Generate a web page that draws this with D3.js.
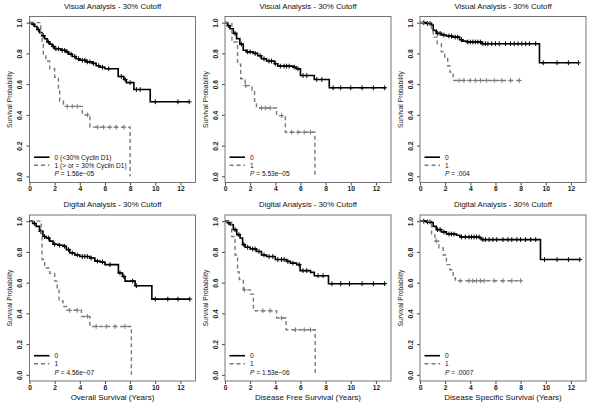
<!DOCTYPE html>
<html><head><meta charset="utf-8">
<script src="https://cdn.jsdelivr.net/npm/d3@7"></script>
<style>
body{margin:0;background:#fff;}
svg{display:block;font-family:"Liberation Sans",Arial,sans-serif;}
</style></head>
<body>
<svg id="chart" width="600" height="410"></svg>
<script>
// ---------- data ----------
const rowTitles = ["Visual Analysis - 30% Cutoff", "Digital Analysis - 30% Cutoff"];
const xTitles = ["Overall Survival (Years)", "Disease Free Survival (Years)", "Disease Specific Survival (Years)"];
const xTicks = [0, 2, 4, 6, 8, 10, 12];
const yTicks = [0, 0.2, 0.4, 0.6, 0.8, 1.0];
const pValues = ["1.56e\u221205", "5.53e\u221205", ".004", "4.56e\u221207", "1.53e\u221206", ".0007"];
const legendFirst = ["0 (<30% Cyclin D1)", "1 (> or = 30% Cyclin D1)"];
const legendOther = ["0", "1"];

// Panel 1: Visual, overall survival
const p1g0Time = [0,0.2,0.4,0.6,0.8,1.0,1.2,1.4,1.6,1.8,2.0,2.5,2.9,3.1,3.4,3.7,4.0,4.5,5.0,5.3,5.6,6.0,7.05,7.5,7.7,8.3,9.6];
const p1g0Surv = [1,0.99,0.975,0.955,0.935,0.915,0.895,0.875,0.86,0.845,0.83,0.82,0.81,0.795,0.78,0.765,0.755,0.745,0.735,0.72,0.71,0.70,0.65,0.63,0.61,0.565,0.485];
const p1g0Cens = [0.3,0.7,1.1,1.5,1.9,2.1,2.3,2.6,2.8,3.0,3.3,3.6,3.9,4.2,4.4,4.6,4.8,5.1,5.5,5.8,6.3,7.3,7.6,8.0,8.5,8.8,10.0,11.8,12.7];
const p1g0End = 12.7;
const p1g1Time = [0,0.9,1.0,1.1,1.3,1.6,2.0,2.3,2.4,2.7,4.2,4.8,8.0];
const p1g1Surv = [1,0.93,0.86,0.79,0.75,0.70,0.645,0.57,0.49,0.455,0.40,0.32,0];
const p1g1Cens = [3.0,3.4,3.8,4.6,5.4,5.9,6.4,6.9,7.5];
const p1g1End = 8.0;

// Panel 2: Visual, disease free survival
const p2g0Time = [0,0.2,0.4,0.66,0.92,1.18,1.45,1.7,2.24,2.6,2.9,3.3,3.95,4.2,5.4,5.66,6.0,7.1,8.29];
const p2g0Surv = [1,0.98,0.96,0.93,0.896,0.86,0.82,0.81,0.80,0.785,0.765,0.75,0.733,0.717,0.711,0.70,0.656,0.63,0.576];
const p2g0Cens = [0.3,0.8,1.3,1.8,2.0,2.4,2.8,3.1,3.5,3.7,4.0,4.4,4.7,4.9,5.1,5.5,5.8,6.2,6.5,7.3,7.7,8.6,9.2,10.0,10.9,11.8,12.7];
const p2g0End = 12.75;
const p2g1Time = [0,0.55,1.0,1.25,1.6,2.15,2.35,2.5,4.1,4.8,7.15];
const p2g1Surv = [1,0.874,0.73,0.635,0.59,0.56,0.49,0.445,0.395,0.287,0];
const p2g1Cens = [1.65,2.9,3.2,3.6,4.5,5.3,5.8,6.3,6.8];
const p2g1End = 7.15;

// Panel 3: Visual, disease specific survival
const p3g0Time = [0,0.5,0.9,1.05,1.3,1.7,2.1,2.6,3.15,3.4,3.7,4.9,9.5];
const p3g0Surv = [1,0.995,0.985,0.95,0.93,0.92,0.913,0.906,0.889,0.88,0.874,0.863,0.739];
const p3g0Cens = [0.3,0.6,0.8,1.4,1.6,1.9,2.3,2.5,2.8,3.0,3.3,3.8,4.0,4.2,4.4,4.6,4.8,5.0,5.2,5.4,5.7,6.0,6.3,6.8,7.2,7.5,7.8,8.1,8.4,8.7,9.2,9.8,10.9,11.8,12.6];
const p3g0End = 12.6;
const p3g1Time = [0,0.92,1.05,1.37,1.7,1.97,2.2,2.37,2.63];
const p3g1Surv = [1,0.95,0.906,0.863,0.81,0.765,0.72,0.678,0.624];
const p3g1Cens = [3.1,3.5,4.0,4.4,4.8,5.3,5.9,6.5,7.2,7.9];
const p3g1End = 8.03;

// Panel 4: Digital, overall survival
const p4g0Time = [0,0.25,0.53,0.8,1.07,1.33,1.6,1.87,2.27,2.67,2.93,3.2,3.6,4.0,4.8,5.2,5.6,6.0,7.07,7.4,7.6,8.4,9.73];
const p4g0Surv = [1,0.985,0.966,0.934,0.90,0.89,0.87,0.85,0.843,0.836,0.815,0.793,0.78,0.77,0.76,0.74,0.734,0.717,0.663,0.64,0.61,0.58,0.493];
const p4g0Cens = [0.4,0.9,1.2,1.5,2.0,2.4,2.8,3.1,3.4,3.8,4.2,4.4,4.6,4.9,5.4,5.8,6.4,7.2,7.5,8.2,8.5,10.0,11.0,11.8,12.75];
const p4g0End = 12.75;
const p4g1Time = [0,0.93,1.0,1.2,1.6,2.0,2.2,2.35,2.67,2.93,4.13,4.8,8.1];
const p4g1Surv = [1,0.9,0.75,0.695,0.66,0.61,0.55,0.48,0.445,0.42,0.38,0.315,0];
const p4g1Cens = [3.2,3.8,4.6,5.3,6.1,6.8,7.6];
const p4g1End = 8.1;

// Panel 5: Digital, disease free survival
const p5g0Time = [0,0.2,0.4,0.66,0.93,1.2,1.4,1.6,2.0,2.5,2.9,3.3,4.0,4.9,5.2,5.7,5.97,6.8,7.1,8.23];
const p5g0Surv = [1,0.99,0.977,0.945,0.912,0.89,0.847,0.83,0.819,0.803,0.78,0.77,0.75,0.738,0.727,0.717,0.678,0.667,0.645,0.593];
const p5g0Cens = [0.3,0.8,1.1,1.5,1.8,2.2,2.4,2.7,3.1,3.5,3.8,4.2,4.5,4.7,5.0,5.4,5.9,6.2,6.5,7.4,7.8,8.5,9.2,9.9,10.9,11.8,12.7];
const p5g0End = 12.74;
const p5g1Time = [0,0.53,0.8,1.0,1.14,1.46,2.0,2.26,2.4,4.1,4.86,7.17];
const p5g1Surv = [1,0.90,0.78,0.67,0.62,0.553,0.525,0.434,0.417,0.37,0.293,0];
const p5g1Cens = [1.55,3.0,3.6,4.5,5.6,6.3,6.8];
const p5g1End = 7.17;

// Panel 6: Digital, disease specific survival
const p6g0Time = [0,0.5,0.92,1.05,1.3,1.7,2.1,2.9,3.17,4.75,4.88,9.58];
const p6g0Surv = [1,0.995,0.99,0.966,0.945,0.93,0.916,0.908,0.897,0.89,0.88,0.75];
const p6g0Cens = [0.3,0.6,0.8,1.4,1.6,1.9,2.3,2.5,2.7,3.3,3.6,3.9,4.1,4.3,4.5,4.7,5.0,5.2,5.5,5.8,6.1,6.6,7.0,7.3,7.7,8.0,8.4,8.8,9.2,9.9,10.9,11.8,12.7];
const p6g0End = 12.74;
const p6g1Time = [0,0.92,1.19,1.5,1.85,2.1,2.37,2.64,2.82];
const p6g1Surv = [1,0.91,0.87,0.825,0.78,0.717,0.684,0.63,0.612];
const p6g1Cens = [1.3,3.2,3.9,4.2,4.5,4.8,5.1,5.9,6.6,7.3,8.0];
const p6g1End = 8.1;

const panels = [
  {g0:[p1g0Time,p1g0Surv,p1g0Cens,p1g0End], g1:[p1g1Time,p1g1Surv,p1g1Cens,p1g1End]},
  {g0:[p2g0Time,p2g0Surv,p2g0Cens,p2g0End], g1:[p2g1Time,p2g1Surv,p2g1Cens,p2g1End]},
  {g0:[p3g0Time,p3g0Surv,p3g0Cens,p3g0End], g1:[p3g1Time,p3g1Surv,p3g1Cens,p3g1End]},
  {g0:[p4g0Time,p4g0Surv,p4g0Cens,p4g0End], g1:[p4g1Time,p4g1Surv,p4g1Cens,p4g1End]},
  {g0:[p5g0Time,p5g0Surv,p5g0Cens,p5g0End], g1:[p5g1Time,p5g1Surv,p5g1Cens,p5g1End]},
  {g0:[p6g0Time,p6g0Surv,p6g0Cens,p6g0End], g1:[p6g1Time,p6g1Surv,p6g1Cens,p6g1End]}
];

// ---------- layout ----------
const lefts = [29.5, 225, 420];
const boxW = 166;
const rowsY = [[16.5, 182.5], [215, 381]];
const svg = d3.select("#chart");
const styles = [{color:"#000", width:1.6, dash:null}, {color:"#7a7a7a", width:1.4, dash:"4,3"}];

function survAt(times, surv, t){
  let s = surv[0];
  for (let i = 0; i < times.length; i++){ if (times[i] <= t) s = surv[i]; }
  return s;
}

panels.forEach((p, i) => {
  const row = Math.floor(i / 3), col = i % 3;
  const L = lefts[col], R = L + boxW, T = rowsY[row][0], B = rowsY[row][1];
  const x = d3.scaleLinear().domain([0, 13.2]).range([L, R]);
  const y = d3.scaleLinear().domain([-0.04, 1.04]).range([B, T]);
  const g = svg.append("g");

  // axes
  const xa = g.append("g").attr("transform", `translate(0,${B})`)
    .call(d3.axisBottom(x).tickValues(xTicks).tickFormat(d3.format("d")).tickSize(3).tickPadding(0.8));
  const ya = g.append("g").attr("transform", `translate(${L},0)`)
    .call(d3.axisLeft(y).tickValues(yTicks).tickFormat(d3.format(".1f")).tickSize(3).tickPadding(3));
  [xa, ya].forEach(a => {
    a.select(".domain").remove();
    a.selectAll("line").attr("stroke", "#333").attr("stroke-width", 0.9);
    a.selectAll("text").attr("font-size", 6.7).attr("font-weight", "bold").attr("fill", "#1a1a1a")
      .attr("font-family", "'Liberation Sans',Arial,sans-serif");
  });
  ya.selectAll("text").attr("x", null).attr("dy", null).attr("text-anchor", "middle")
    .attr("transform", "translate(-7.3,0) rotate(-90)");

  // box
  g.append("rect").attr("x", L).attr("y", T).attr("width", boxW).attr("height", B - T)
    .attr("fill", "none").attr("stroke", "#666").attr("stroke-width", 0.9);

  // curves
  [p.g0, p.g1].forEach(grp => {
    const st = styles[grp === p.g0 ? 0 : 1];
    const [times, surv, cens, end] = grp;
    const pts = times.map((t, j) => [t, surv[j]]);
    if (end > times[times.length - 1]) pts.push([end, surv[surv.length - 1]]);
    const line = d3.line().x(d => x(d[0])).y(d => y(d[1])).curve(d3.curveStepAfter);
    g.append("path").attr("d", line(pts)).attr("fill", "none")
      .attr("stroke", st.color).attr("stroke-width", st.width)
      .attr("stroke-dasharray", st.dash);
    const hs = 2.4;
    g.append("g").selectAll("path").data(cens).join("path")
      .attr("d", c => {
        const cx = x(c), cy = y(survAt(times, surv, c));
        return `M${cx - hs},${cy}H${cx + hs}M${cx},${cy - hs}V${cy + hs}`;
      })
      .attr("stroke", st.color).attr("stroke-width", 1).attr("fill", "none");
  });

  // legend
  const labels = i === 0 ? legendFirst : legendOther;
  const ly = [B - 25.3, B - 17.2, B - 8.6];
  labels.forEach((lab, k) => {
    const st = styles[k];
    g.append("line").attr("x1", L + 4.5).attr("x2", L + 20).attr("y1", ly[k]).attr("y2", ly[k])
      .attr("stroke", st.color).attr("stroke-width", st.width).attr("stroke-dasharray", st.dash);
    g.append("text").attr("x", L + 25).attr("y", ly[k]).attr("dy", "0.35em")
      .attr("font-size", 6.6).attr("fill", "#111").text(lab);
  });
  const pt = g.append("text").attr("x", L + 25).attr("y", ly[2]).attr("dy", "0.35em")
    .attr("font-size", 6.6).attr("fill", "#111");
  pt.append("tspan").attr("font-style", "italic").text("P");
  pt.append("tspan").text(" = " + pValues[i]);

  // titles
  g.append("text").attr("x", (L + R) / 2).attr("y", row === 0 ? 6 : 204.5).attr("dy", "0.35em")
    .attr("text-anchor", "middle").attr("font-size", 7.8).attr("fill", "#111").text(rowTitles[row]);
  g.append("text").attr("transform", `translate(${L - 19.5},${(T + B) / 2}) rotate(-90)`)
    .attr("dy", "0.35em").attr("text-anchor", "middle").attr("font-size", 6.7).attr("fill", "#222")
    .text("Survival Probability");
  if (row === 1) {
    g.append("text").attr("x", (L + R) / 2).attr("y", 397.5).attr("dy", "0.35em")
      .attr("text-anchor", "middle").attr("font-size", 8).attr("fill", "#111").text(xTitles[col]);
  }
});
</script>
</body></html>
